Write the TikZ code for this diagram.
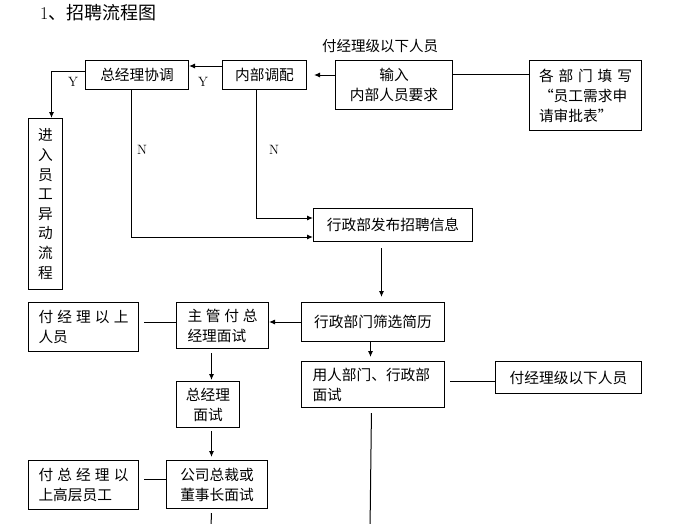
\documentclass[tikz,border=0pt]{standalone}
\usepackage{fontspec}
\newfontfamily\cjk{Noto Sans CJK SC}
\usetikzlibrary{arrows.meta}
\newcommand{\spread}[2]{\hbox to #1{#2}}
\tikzset{
  box/.style={draw, line width=1pt, anchor=north west, inner sep=0pt, align=center,
    font=\cjk\fontsize{14.7}{20}\selectfont},
  lbox/.style={box, align=left},
  con/.style={line width=1pt},
  arr/.style={con, -{Latex[length=6pt,width=5pt]}},
  yn/.style={inner sep=0pt, font=\fontsize{13.5}{15}\selectfont},
}
\begin{document}
\begin{tikzpicture}[x=1pt,y=-1pt]
\useasboundingbox (0,0) rectangle (685,523);
\node[anchor=west, inner sep=0pt, font=\fontsize{18}{20}\selectfont] (title) at (40,13) {1{\cjk 、招聘流程图}};
\node[box, minimum width=103pt, minimum height=29pt] (zjl) at (85,60) {总经理协调};
\node[box, minimum width=84pt, minimum height=29pt] (nbdp) at (222,60) {内部调配};
\node[box, minimum width=117pt, minimum height=49pt] (sr) at (335,60) {输入\\内部人员要求};
\node[lbox, text width=93pt, minimum width=112pt, minimum height=70pt] (gbm) at (529,60)
  {\spread{93pt}{各\hfil 部\hfil 门\hfil 填\hfil 写}\\“员工需求申\\请审批表”};
\node[inner sep=0pt, font=\cjk\fontsize{14.5}{16}\selectfont] (fjxt) at (380,46) {付经理级以下人员};
\node[box, minimum width=34pt, minimum height=171pt, font=\cjk\fontsize{14.7}{19.6}\selectfont] (jr) at (28,118)
  {进\\入\\员\\工\\异\\动\\流\\程};
\node[box, minimum width=159pt, minimum height=33pt] (fb) at (313,208) {行政部发布招聘信息};
\node[box, minimum width=143pt, minimum height=39pt] (sx) at (301,302) {行政部门筛选简历};
\node[lbox, text width=70pt, minimum width=92pt, minimum height=46pt] (zg) at (176,302)
  {\spread{70pt}{主\hfil 管\hfil 付\hfil 总}\\经理面试};
\node[lbox, text width=90pt, minimum width=110pt, minimum height=49pt] (fjs) at (28,302)
  {\spread{90pt}{付\hfil 经\hfil 理\hfil 以\hfil 上}\\人员};
\node[box, minimum width=63pt, minimum height=46pt] (zjlms) at (176,381) {总经理\\面试};
\node[box, minimum width=101pt, minimum height=48pt] (zc) at (166,460) {公司总裁或\\董事长面试};
\node[lbox, text width=90pt, minimum width=110pt, minimum height=49pt] (fzj) at (28,460)
  {\spread{90pt}{付\hfil 总\hfil 经\hfil 理\hfil 以}\\上高层员工};
\node[lbox, text width=121pt, minimum width=143pt, minimum height=46pt] (yr) at (301,361) {用人部门、行政部\\面试};
\node[box, minimum width=146pt, minimum height=32pt] (fjx) at (495,361) {付经理级以下人员};
\node[yn] (y1) at (73,82) {Y};
\node[yn] (y2) at (203,82) {Y};
\node[yn] (n1) at (142,150) {N};
\node[yn] (n2) at (274,150) {N};
\coordinate (end1) at (211,530);
\coordinate (end2) at (370,530);
\draw[con] ([yshift=-14pt]sr.north east) -- ([yshift=-14pt]gbm.north west);
\draw[arr, shorten >=7pt] ([yshift=-15pt]sr.north west) -- ([yshift=-15pt]nbdp.north east);
\draw[arr] ([yshift=-6pt]nbdp.north west) -- ([yshift=-6pt]zjl.north east);
\draw[arr] ([yshift=-11pt]zjl.north west) -| ([xshift=6pt]jr.north);
\draw[arr] ([xshift=-5.5pt]zjl.south) |- ([yshift=-29pt]fb.north west);
\draw[arr] ([xshift=-8pt]nbdp.south) |- ([yshift=-10pt]fb.north west);
\draw[arr, shorten <=6pt, shorten >=5pt] ([xshift=-11.5pt]fb.south) -- ([xshift=-11.5pt]fb.south |- sx.north);
\draw[arr] ([yshift=-20pt]sx.north west) -- ([yshift=-20pt]zg.north east);
\draw[con, shorten <=5pt] ([yshift=-20pt]fjs.north east) -- ([yshift=-20pt]zg.north west);
\draw[arr, shorten <=4pt, shorten >=1pt] ([xshift=-11pt]zg.south) -- ([xshift=-11pt]zg.south |- zjlms.north);
\draw[arr, shorten <=3pt, shorten >=3pt] ([xshift=3.5pt]zjlms.south) -- ([xshift=3.5pt]zjlms.south |- zc.north);
\draw[con, shorten <=5pt] ([yshift=-19pt]fzj.north east) -- ([yshift=-19pt]zc.north west);
\draw[con, shorten <=4pt] ([xshift=-5.5pt]zc.south) -- (end1);
\draw[arr, shorten >=4pt] ([xshift=-2.5pt]sx.south) -- ([xshift=-2.5pt]sx.south |- yr.north);
\draw[con, shorten <=5pt] ([yshift=-20pt]yr.north east) -- ([yshift=-20pt]fjx.north west);
\draw[con, shorten <=5pt] ([xshift=-1.5pt]yr.south) -- (end2);
\end{tikzpicture}
\end{document}
